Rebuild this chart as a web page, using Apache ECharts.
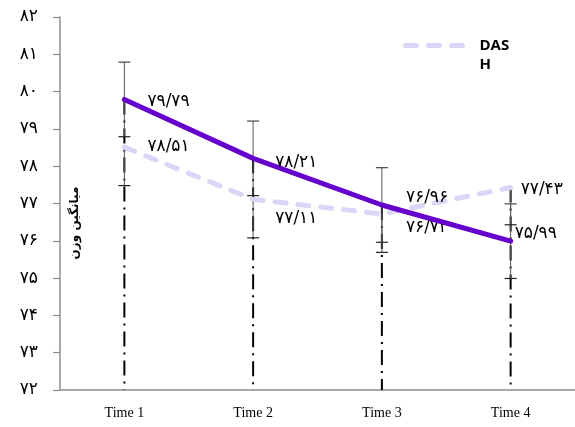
<!DOCTYPE html>
<html>
<head>
<meta charset="utf-8">
<script src="https://cdn.jsdelivr.net/npm/echarts@6/dist/echarts.min.js"></script>
<style>
html,body{margin:0;padding:0;background:#fff;}
#c{width:575px;height:427px;}
</style>
</head>
<body>
<div id="c"></div>
<script>
const categories = ['Time 1', 'Time 2', 'Time 3', 'Time 4'];
const solidValues = [79.79, 78.21, 76.96, 75.99];
const dashValues = [78.51, 77.11, 76.72, 77.43];
const solidErrors = [1.0, 1.0, 1.0, 1.0];
const dashErrors = [1.03, 1.03, 1.03, 1.0];
const yMin = 72, yMax = 82, yStep = 1;
const yTitle = 'میانگین وزن';
const legendName = 'DASH';

// label placement styles (offsets in px relative to "right" position)
const solidLabelOffsets = [[1, 2], [0, 4], [2, -7], [-18, -8]];
const dashLabelOffsets = [[1, -1], [0, 19], [2, 14], [-12, 2]];

const fa = s => String(s).replace(/\d/g, d => '۰۱۲۳۴۵۶۷۸۹'[d]);
const fmtVal = v => fa(v.toFixed(2).replace('.', '/'));

const chart = echarts.init(document.getElementById('c'), null, {renderer: 'canvas'});

function labelData(values, offsets) {
  return values.map((v, i) => ({
    value: v,
    label: {offset: offsets[i]}
  }));
}

const solidErrData = solidValues.map((v, i) => [i, v - solidErrors[i], v + solidErrors[i]]);
const dashErrData = dashValues.map((v, i) => [i, v - dashErrors[i], v]);
const dropData = categories.map((c, i) => [i, Math.max(solidValues[i], dashValues[i])]);

function errRender(showTopCap) {
  return function (params, api) {
    const i = api.value(0);
    const lo = api.coord([i, api.value(1)]);
    const hi = api.coord([i, api.value(2)]);
    const w = 6;
    const children = [
      {type: 'line', shape: {x1: hi[0], y1: hi[1], x2: lo[0], y2: lo[1]}, style: {stroke: '#555', lineWidth: 1}},
      {type: 'line', shape: {x1: lo[0] - w, y1: lo[1], x2: lo[0] + w, y2: lo[1]}, style: {stroke: '#222', lineWidth: 1.2}}
    ];
    if (showTopCap) {
      children.push({type: 'line', shape: {x1: hi[0] - w, y1: hi[1], x2: hi[0] + w, y2: hi[1]}, style: {stroke: '#444', lineWidth: 1.2}});
    }
    return {type: 'group', children};
  };
}

const valueLabel = {
  show: true,
  position: 'right',
  distance: 22,
  fontFamily: 'DejaVu Sans, sans-serif',
  fontSize: 17,
  color: '#000',
  formatter: p => fmtVal(p.value)
};

const option = {
  animation: false,
  backgroundColor: '#fff',
  grid: {left: 60, top: 17, width: 518, bottom: 37, containLabel: false},
  legend: {
    data: [legendName],
    left: 403,
    top: 17,
    padding: 0,
    itemWidth: 60,
    itemHeight: 14,
    formatter: () => ' \nDAS\nH',
    itemStyle: {opacity: 0},
    lineStyle: {color: '#DCD5F8', width: 5, type: [11, 12], cap: 'round'},
    textStyle: {
      fontFamily: 'Open Sans, Liberation Sans, sans-serif',
      fontWeight: 'bold',
      fontSize: 15,
      color: '#000',
      lineHeight: 19,
      padding: [0, 0, 0, 9]
    }
  },
  xAxis: {
    type: 'category',
    data: categories,
    boundaryGap: true,
    axisLine: {lineStyle: {color: '#8c8c8c', width: 1.5}},
    axisTick: {show: false},
    axisLabel: {
      margin: 16,
      fontFamily: 'Liberation Serif, Times New Roman, serif',
      fontSize: 14,
      color: '#000'
    },
    splitLine: {show: false}
  },
  yAxis: {
    type: 'value',
    min: yMin,
    max: yMax,
    interval: yStep,
    axisLine: {show: true, lineStyle: {color: '#8c8c8c', width: 1.5}},
    axisTick: {show: true, length: 7, lineStyle: {color: '#8c8c8c', width: 1.2}},
    axisLabel: {
      margin: 22,
      fontFamily: 'DejaVu Sans, sans-serif',
      fontSize: 17,
      color: '#000',
      formatter: v => fa(v)
    },
    splitLine: {show: false}
  },
  graphic: [{
    type: 'text',
    x: 75,
    y: 223,
    rotation: Math.PI / 2,
    style: {
      text: yTitle,
      fontFamily: 'DejaVu Sans, sans-serif',
      fontWeight: 'bold',
      fontSize: 12,
      fill: '#000',
      align: 'center',
      verticalAlign: 'middle'
    },
    z: 100
  }],
  series: [
    {
      type: 'custom',
      name: 'dropLines',
      data: dropData,
      z: 3,
      silent: true,
      renderItem: function (params, api) {
        const i = api.value(0);
        const top = api.coord([i, api.value(1)]);
        const bot = api.coord([i, yMin]);
        return {
          type: 'line',
          shape: {x1: top[0], y1: top[1], x2: bot[0], y2: bot[1]},
          style: {stroke: '#000', lineWidth: 2, lineDash: [15, 6, 2, 6]}
        };
      }
    },
    {
      type: 'custom',
      name: 'solidErr',
      data: solidErrData,
      z: 4,
      silent: true,
      renderItem: errRender(true)
    },
    {
      type: 'custom',
      name: 'dashErr',
      data: dashErrData,
      z: 4,
      silent: true,
      renderItem: errRender(false)
    },
    {
      type: 'line',
      name: legendName,
      data: labelData(dashValues, dashLabelOffsets),
      symbol: 'circle',
      symbolSize: 0,
      showSymbol: true,
      z: 5,
      lineStyle: {color: '#DCD5F8', width: 5, type: [11, 12], cap: 'round'},
      itemStyle: {color: '#DCD5F8'},
      label: valueLabel
    },
    {
      type: 'line',
      name: 'solid',
      data: labelData(solidValues, solidLabelOffsets),
      symbol: 'circle',
      symbolSize: 0,
      showSymbol: true,
      z: 6,
      lineStyle: {color: '#6600CC', width: 5, cap: 'round'},
      itemStyle: {color: '#6600CC'},
      label: valueLabel
    }
  ]
};
chart.setOption(option);
</script>
</body>
</html>
